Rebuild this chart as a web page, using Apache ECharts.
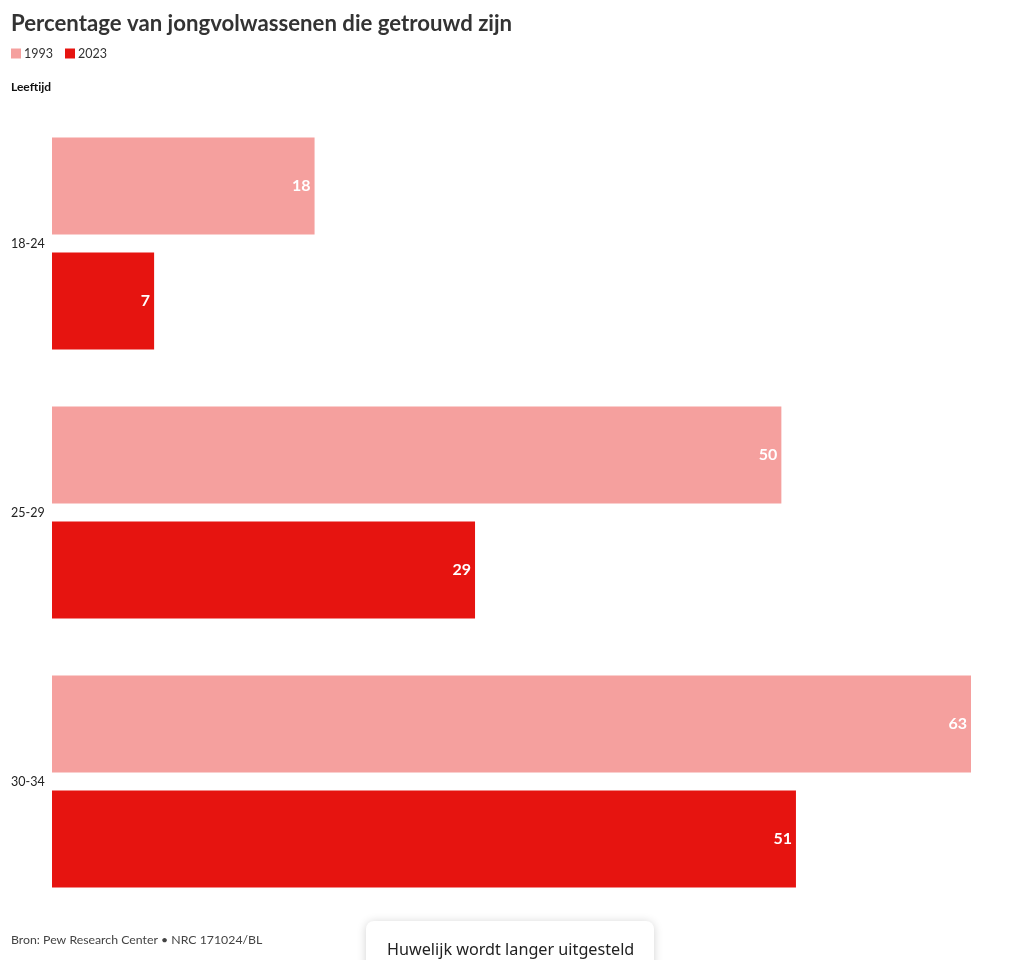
<!DOCTYPE html>
<html>
<head>
<meta charset="utf-8">
<script src="https://cdn.jsdelivr.net/npm/echarts@6/dist/echarts.min.js"></script>
<style>
html,body{margin:0;padding:0;background:#fff;}
#chart{width:1020px;height:960px;}
</style>
</head>
<body>
<div id="chart"></div>
<script>
var categories = ['18-24', '25-29', '30-34'];
var values1993 = [18, 50, 63];
var values2023 = [7, 29, 51];
var seriesNames = ['1993', '2023'];

var FONT = 'Lato, "Noto Sans", sans-serif';
var chart = echarts.init(document.getElementById('chart'), null, {renderer: 'canvas'});
var labelStyle = {
  show: true, position: 'insideRight', distance: 4,
  color: '#fff', fontWeight: 'bold', fontSize: 16, fontFamily: FONT
};
chart.setOption({
  animation: false,
  textStyle: {fontFamily: FONT},
  title: [{
    text: 'Percentage van jongvolwassenen die getrouwd zijn',
    left: 11, top: 13, padding: 0,
    textStyle: {fontSize: 22.2, fontWeight: 'bold', color: '#333', fontFamily: FONT}
  }],
  legend: {
    data: seriesNames, left: 11, top: 47, padding: 0, itemWidth: 10, itemHeight: 10, itemGap: 12,
    icon: 'rect',
    textStyle: {fontSize: 12.5, color: '#333', fontFamily: FONT, padding: [0, 0, 0, -2]}
  },
  grid: {left: 52, right: 49, top: 109, bottom: 44, containLabel: false},
  xAxis: {
    type: 'value', min: 0, max: 63, show: false,
    splitLine: {show: false}
  },
  yAxis: {
    type: 'category', data: categories, inverse: true,
    axisLine: {show: false}, axisTick: {show: false},
    axisLabel: {align: 'left', margin: 41, fontSize: 12.5, color: '#222', fontFamily: FONT}
  },
  series: [
    {name: seriesNames[0], type: 'bar', data: values1993, barGap: '18.6%', barCategoryGap: '21.2%',
     itemStyle: {color: '#f5a09e'}, label: labelStyle},
    {name: seriesNames[1], type: 'bar', data: values2023,
     itemStyle: {color: '#e61410'}, label: labelStyle}
  ],
  graphic: [
    {type: 'text', left: 11, top: 81, style: {text: 'Leeftijd', font: 'bold 12px ' + FONT, fill: '#111'}},
    {type: 'text', left: 11, top: 934, style: {text: 'Bron: Pew Research Center • NRC 171024/BL', font: '12.3px ' + FONT, fill: '#444'}},
    {type: 'rect', left: 366, top: 921, shape: {width: 288, height: 60, r: 8},
     style: {fill: '#fff', shadowBlur: 10, shadowColor: 'rgba(0,0,0,0.18)', shadowOffsetY: 1}, z: 10},
    {type: 'text', left: 387, top: 942, style: {text: 'Huwelijk wordt langer uitgesteld', font: '16.2px "Noto Sans", sans-serif', fill: '#222'}, z: 11}
  ]
});
</script>
</body>
</html>
